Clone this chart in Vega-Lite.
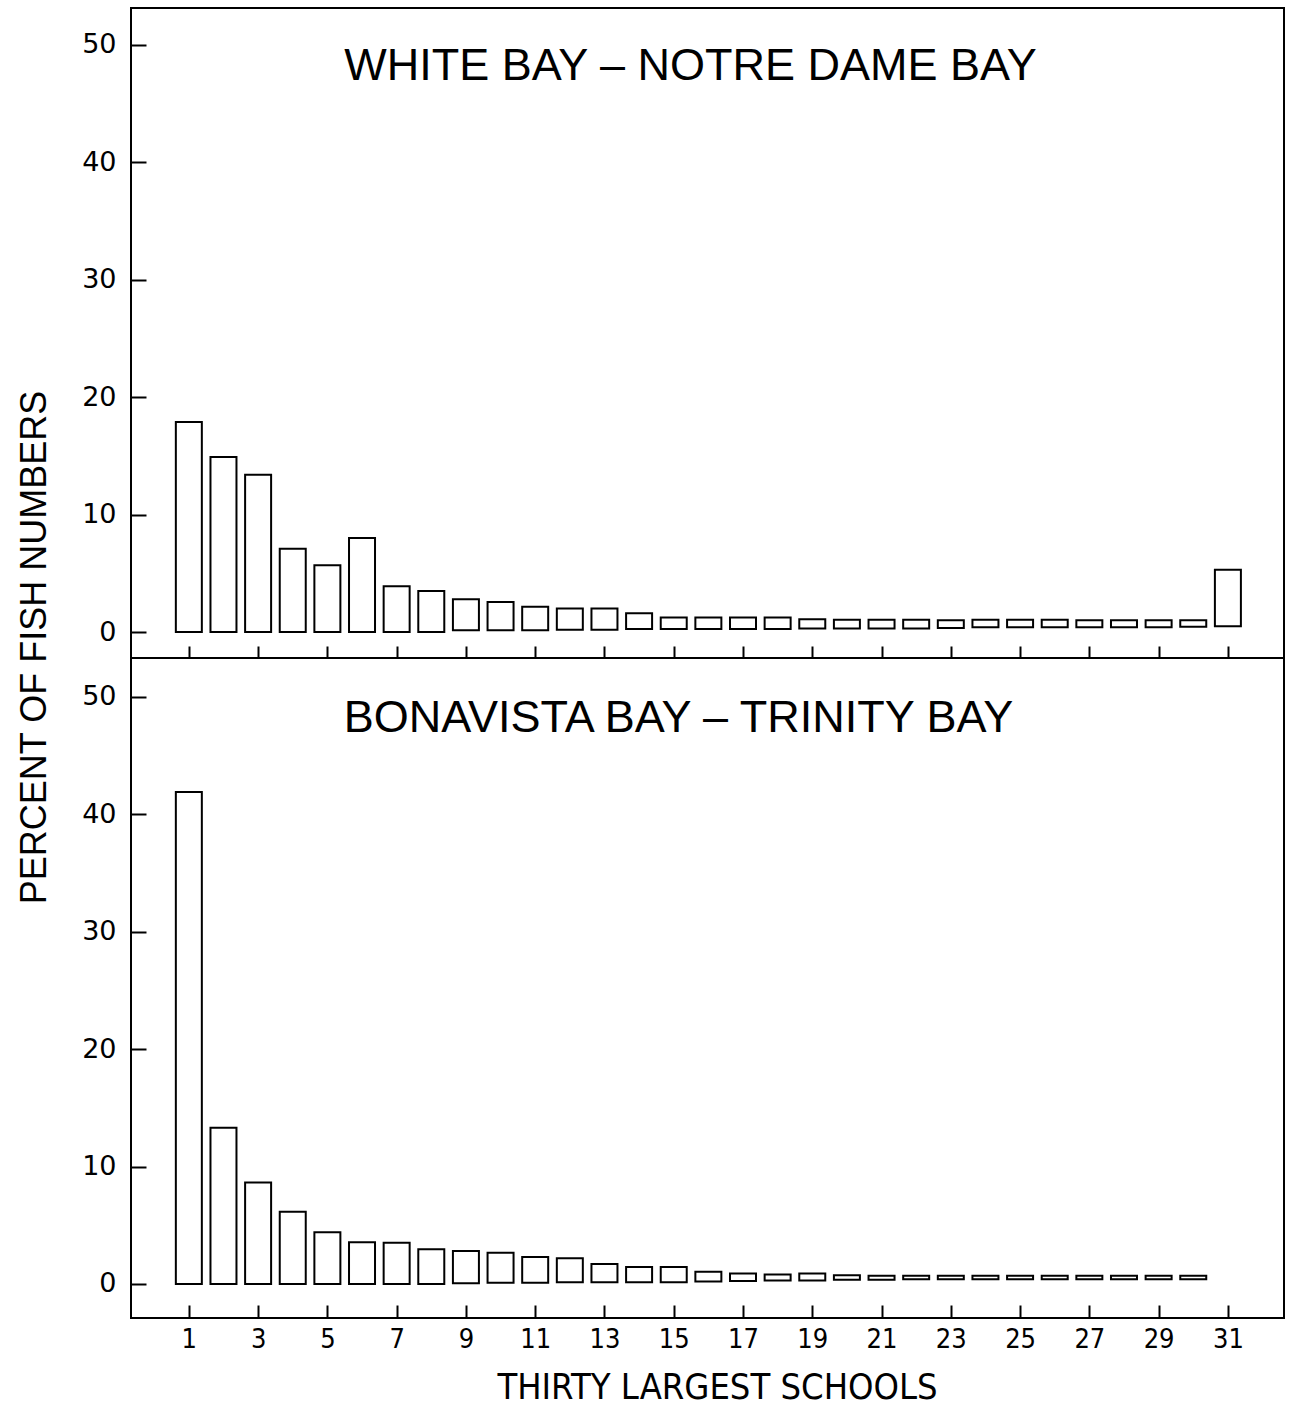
{
  "$schema": "https://vega.github.io/schema/vega-lite/v6.json",
  "padding": {"left": 15, "top": 7, "right": 10, "bottom": 5},
  "background": "white",
  "spacing": 0,
  "bounds": "flush",
  "config": {
    "view": {"stroke": "black", "strokeWidth": 2},
    "axis": {"grid": false, "domain": false, "tickColor": "black", "tickWidth": 2, "labelColor": "black", "titleColor": "black", "labelFontWeight": "normal", "titleFontWeight": "normal"}
  },
  "datasets": {
    "top": [
      {"school": 1, "lo": 0, "hi": 17.9},
      {"school": 2, "lo": 0, "hi": 14.9},
      {"school": 3, "lo": 0, "hi": 13.4},
      {"school": 4, "lo": 0, "hi": 7.1},
      {"school": 5, "lo": 0, "hi": 5.7},
      {"school": 6, "lo": 0, "hi": 8.0},
      {"school": 7, "lo": 0, "hi": 3.9},
      {"school": 8, "lo": 0, "hi": 3.5},
      {"school": 9, "lo": 0.15, "hi": 2.8},
      {"school": 10, "lo": 0.15, "hi": 2.55},
      {"school": 11, "lo": 0.15, "hi": 2.15},
      {"school": 12, "lo": 0.2, "hi": 2.0},
      {"school": 13, "lo": 0.2, "hi": 2.0},
      {"school": 14, "lo": 0.25, "hi": 1.6},
      {"school": 15, "lo": 0.25, "hi": 1.25},
      {"school": 16, "lo": 0.25, "hi": 1.25},
      {"school": 17, "lo": 0.25, "hi": 1.25},
      {"school": 18, "lo": 0.25, "hi": 1.25},
      {"school": 19, "lo": 0.3, "hi": 1.1},
      {"school": 20, "lo": 0.3, "hi": 1.05},
      {"school": 21, "lo": 0.3, "hi": 1.05},
      {"school": 22, "lo": 0.3, "hi": 1.05},
      {"school": 23, "lo": 0.35, "hi": 1.0},
      {"school": 24, "lo": 0.4, "hi": 1.05},
      {"school": 25, "lo": 0.4, "hi": 1.05},
      {"school": 26, "lo": 0.4, "hi": 1.05},
      {"school": 27, "lo": 0.4, "hi": 1.0},
      {"school": 28, "lo": 0.4, "hi": 1.0},
      {"school": 29, "lo": 0.4, "hi": 1.0},
      {"school": 30, "lo": 0.45, "hi": 1.0},
      {"school": 31, "lo": 0.5, "hi": 5.3}
    ],
    "bottom": [
      {"school": 1, "lo": 0, "hi": 41.9},
      {"school": 2, "lo": 0, "hi": 13.3},
      {"school": 3, "lo": 0, "hi": 8.65},
      {"school": 4, "lo": 0, "hi": 6.15},
      {"school": 5, "lo": 0, "hi": 4.4},
      {"school": 6, "lo": 0, "hi": 3.55},
      {"school": 7, "lo": 0, "hi": 3.5},
      {"school": 8, "lo": 0, "hi": 2.95},
      {"school": 9, "lo": 0.05, "hi": 2.8},
      {"school": 10, "lo": 0.1, "hi": 2.65},
      {"school": 11, "lo": 0.1, "hi": 2.3},
      {"school": 12, "lo": 0.15, "hi": 2.2},
      {"school": 13, "lo": 0.15, "hi": 1.7},
      {"school": 14, "lo": 0.15, "hi": 1.45},
      {"school": 15, "lo": 0.15, "hi": 1.45},
      {"school": 16, "lo": 0.2, "hi": 1.05},
      {"school": 17, "lo": 0.25, "hi": 0.9},
      {"school": 18, "lo": 0.3, "hi": 0.8},
      {"school": 19, "lo": 0.3, "hi": 0.9},
      {"school": 20, "lo": 0.35, "hi": 0.75},
      {"school": 21, "lo": 0.35, "hi": 0.7},
      {"school": 22, "lo": 0.4, "hi": 0.7},
      {"school": 23, "lo": 0.4, "hi": 0.7},
      {"school": 24, "lo": 0.4, "hi": 0.7},
      {"school": 25, "lo": 0.4, "hi": 0.7},
      {"school": 26, "lo": 0.4, "hi": 0.7},
      {"school": 27, "lo": 0.4, "hi": 0.7},
      {"school": 28, "lo": 0.4, "hi": 0.7},
      {"school": 29, "lo": 0.4, "hi": 0.7},
      {"school": 30, "lo": 0.4, "hi": 0.7}
    ]
  },
  "vconcat": [
    {
      "width": 1153,
      "height": 650,
      "data": {"name": "top"},
      "title": {"text": "WHITE BAY – NOTRE DAME BAY", "offset": -117, "baseline": "alphabetic", "fontSize": 45, "font": "Liberation Sans", "fontWeight": "normal", "dx": -17, "color": "black"},
      "mark": {"type": "bar", "width": 26, "fill": "white", "stroke": "black", "strokeWidth": 2},
      "encoding": {
        "x": {"field": "school", "type": "quantitative",
          "scale": {"domain": [-0.67, 32.62], "nice": false, "zero": false, "padding": 0},
          "axis": {"values": [1,3,5,7,9,11,13,15,17,19,21,23,25,27,29,31], "labels": false, "tickSize": -12, "title": null}},
        "y": {"field": "hi", "type": "quantitative",
          "scale": {"domain": [-2.21, 53.15], "nice": false, "zero": false, "padding": 0},
          "axis": {"values": [0,10,20,30,40,50], "tickSize": -15, "labelPadding": 30, "labelFont": "DejaVu Sans", "labelFontSize": 27,
            "title": "PERCENT OF FISH NUMBERS", "titleFont": "Liberation Sans", "titleFontSize": 36, "titleX": -97, "titleY": 639, "titleBaseline": "middle", "titleAngle": 270}},
        "y2": {"field": "lo"}
      }
    },
    {
      "width": 1153,
      "height": 660,
      "data": {"name": "bottom"},
      "title": {"text": "BONAVISTA BAY – TRINITY BAY", "offset": -119, "baseline": "alphabetic", "fontSize": 45, "font": "Liberation Sans", "fontWeight": "normal", "dx": -29, "color": "black"},
      "mark": {"type": "bar", "width": 26, "fill": "white", "stroke": "black", "strokeWidth": 2},
      "encoding": {
        "x": {"field": "school", "type": "quantitative",
          "scale": {"domain": [-0.67, 32.62], "nice": false, "zero": false, "padding": 0},
          "axis": {"values": [1,3,5,7,9,11,13,15,17,19,21,23,25,27,29,31], "tickSize": -13, "labelPadding": 21, "labelFont": "'Liberation Sans Narrow', 'DejaVu Sans Condensed', sans-serif", "labelFontSize": 27,
            "title": "THIRTY LARGEST SCHOOLS", "titleFont": "'Liberation Sans Narrow', 'DejaVu Sans Condensed', sans-serif", "titleFontSize": 36, "titleX": 586, "titleY": 80, "titleBaseline": "alphabetic"}},
        "y": {"field": "hi", "type": "quantitative",
          "scale": {"domain": [-2.9, 53.32], "nice": false, "zero": false, "padding": 0},
          "axis": {"values": [0,10,20,30,40,50], "tickSize": -15, "labelPadding": 30, "labelFont": "DejaVu Sans", "labelFontSize": 27, "title": null}},
        "y2": {"field": "lo"}
      }
    }
  ]
}
